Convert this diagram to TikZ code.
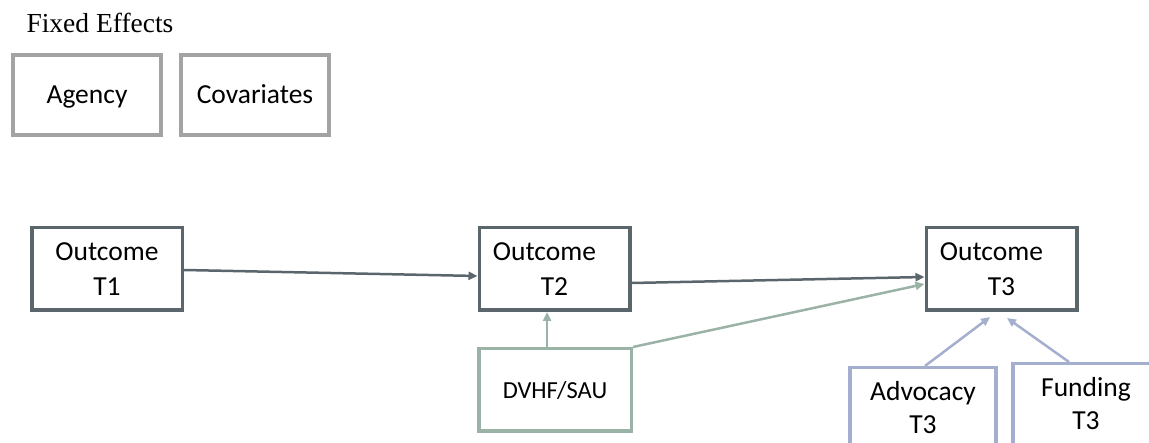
\documentclass[tikz,border=0pt]{standalone}
\usepackage{fontspec}
\setmainfont{Carlito}
\newfontfamily\serifft{Liberation Serif}
\usetikzlibrary{arrows.meta}
\definecolor{darkc}{HTML}{5B656C}
\definecolor{grayc}{HTML}{A3A3A3}
\definecolor{greenc}{HTML}{9BB3A7}
\definecolor{lavc}{HTML}{A4AECF}
\tikzset{
  box/.style={draw, line width=3.5pt, align=center, inner sep=0pt,
              font=\fontsize{27.5}{35}\selectfont},
  oneline/.style={text height=19pt, text depth=2pt},
  outbox/.style={box, draw=darkc, minimum width=150.5pt, minimum height=82.5pt},
  febox/.style={box, oneline, draw=grayc, minimum width=148pt, minimum height=80pt},
  lavbox/.style={box, draw=lavc, minimum width=146pt, minimum height=92pt,
                 text depth=12pt, font=\fontsize{27.5}{33}\selectfont},
  arr/.style={line width=2.5pt, -{Triangle[length=9pt,width=8pt]}},
}
\begin{document}
\begin{tikzpicture}[x=1pt,y=-1pt]
\useasboundingbox (0,0) rectangle (1149,443);
\clip (0,0) rectangle (1149,443);
\node[anchor=west, font=\serifft\fontsize{27.5}{30}\selectfont] (fe) at (23,23) {Fixed Effects};
\node[febox] (agency) at (87,95) {Agency};
\node[febox] (cov) at (255,95) {Covariates};
\node[outbox] (t1) at (107,269) {Outcome\\T1};
\node[outbox] (t2) at (554.5,269) {\hspace*{-20pt}Outcome\\T2};
\node[outbox] (t3) at (1001.5,269) {\hspace*{-20pt}Outcome\\T3};
\node[box, oneline, draw=greenc, minimum width=152.5pt, minimum height=82.5pt,
      font=\fontsize{24.5}{28}\selectfont] (dvhf) at (555,390) {DVHF/SAU};
\node[lavbox, anchor=north] (adv) at (923,366) {Advocacy\\T3};
\node[lavbox, anchor=north] (fund) at (1086,362) {Funding\\T3};
\draw[arr, darkc] ([yshift=-1pt]t1.east) -- ([yshift=-7pt]t2.west);
\draw[arr, darkc] ([yshift=-14pt]t2.east) -- ([yshift=-8pt]t3.west);
\draw[arr, greenc] (dvhf.north east) -- ([yshift=-15pt]t3.west);
\draw[arr, greenc] ([xshift=-8pt]dvhf.north) -- ([xshift=-7.5pt]t2.south);
\draw[arr, lavc] ([xshift=2pt]adv.north) -- ([xshift=-11.5pt,yshift=-5pt]t3.south);
\draw[arr, lavc] ([xshift=-17pt]fund.north) -- ([xshift=5.5pt,yshift=-6pt]t3.south);
\end{tikzpicture}
\end{document}
